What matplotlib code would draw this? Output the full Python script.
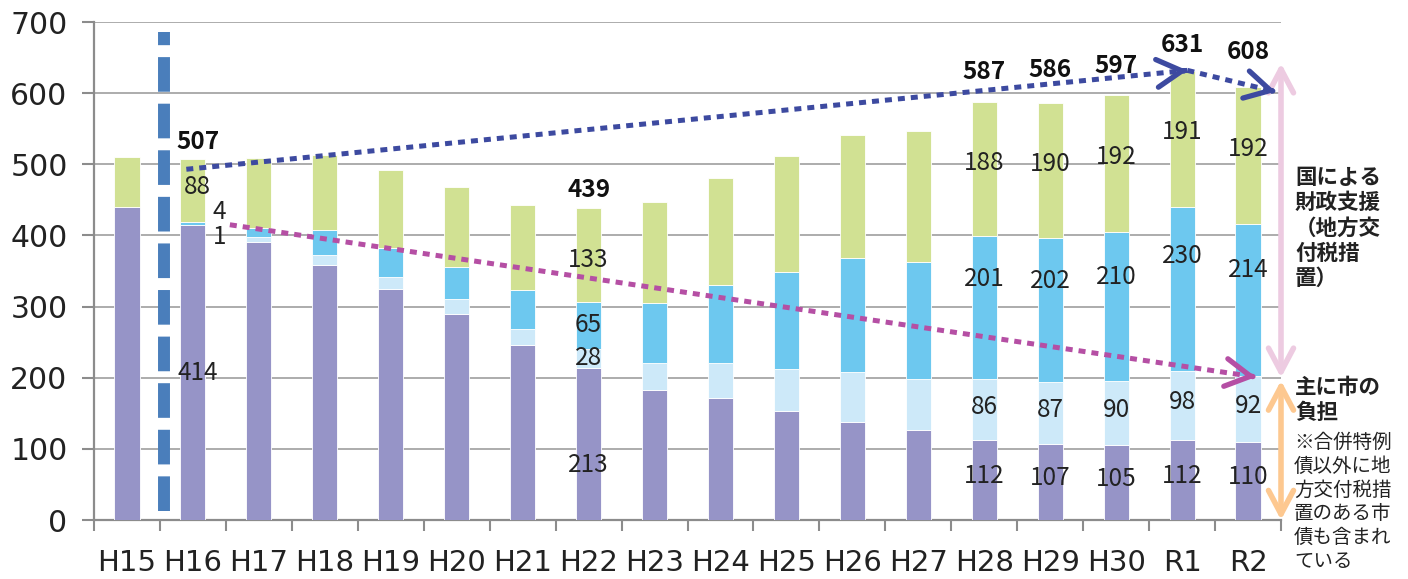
import matplotlib
matplotlib.use("Agg")
import matplotlib.pyplot as plt
import numpy as np

# ---------------- data ----------------
years = ["H15", "H16", "H17", "H18", "H19", "H20", "H21", "H22", "H23",
         "H24", "H25", "H26", "H27", "H28", "H29", "H30", "R1", "R2"]
# 主に市の負担（合併特例債以外）
city_burden = [440, 414, 391, 359, 325, 289, 246, 213, 183, 171, 153, 138, 126, 112, 107, 105, 112, 110]
# 主に市の負担（合併特例債）
merger_city = [0, 1, 7, 14, 17, 21, 23, 28, 37, 49, 59, 70, 72, 86, 87, 90, 98, 92]
# 国による財政支援（合併特例債）
merger_national = [0, 4, 12, 34, 40, 45, 54, 65, 85, 111, 136, 160, 165, 201, 202, 210, 230, 214]
# 国による財政支援（その他）
other_national = [70, 88, 99, 106, 110, 113, 120, 133, 142, 150, 164, 173, 184, 188, 190, 192, 191, 192]

labeled_years = ["H16", "H22", "H28", "H29", "H30", "R1", "R2"]
y_ticks = [0, 100, 200, 300, 400, 500, 600, 700]

text_national = "国による\n財政支援\n（地方交\n付税措\n置）"
text_city = "主に市の\n負担"
text_note = "※合併特例\n債以外に地\n方交付税措\n置のある市\n債も含まれ\nている"

# ---------------- style ----------------
C_PURPLE = "#9694C7"
C_LIGHT = "#CDE9F9"
C_BLUE = "#6DC8EF"
C_GREEN = "#D1E193"
C_GRID = "#A6A6A6"
C_DASH = "#4A7EBB"
C_NAVY = "#3D4AA0"
C_MAGENTA = "#B54FA4"
C_PINK = "#EDCBE1"
C_ORANGE = "#FDC890"

NUM_FONT = ["Noto Sans CJK JP", "DejaVu Sans"]
JP_FONT = ["Noto Sans CJK JP", "DejaVu Sans"]

plt.rcParams["font.family"] = ["DejaVu Sans"]

W, H = 1408, 579
fig = plt.figure(figsize=(W / 100, H / 100), dpi=100)
ax = fig.add_axes([94 / W, 1 - 520 / H, (1281 - 94) / W, (520 - 22) / H])

x = np.arange(len(years))
bw = 0.38
s1 = np.array(city_burden, float)
s2 = np.array(merger_city, float)
s3 = np.array(merger_national, float)
s4 = np.array(other_national, float)
b2 = s1
b3 = s1 + s2
b4 = s1 + s2 + s3
tot = b4 + s4

kw = dict(width=bw, edgecolor="white", linewidth=0.6, zorder=3)
ax.bar(x, s1, color=C_PURPLE, **kw)
ax.bar(x, s2, bottom=b2, color=C_LIGHT, **kw)
ax.bar(x, s3, bottom=b3, color=C_BLUE, **kw)
ax.bar(x, s4, bottom=b4, color=C_GREEN, **kw)

ax.set_xlim(-0.5, len(years) - 0.5)
ax.set_ylim(0, 700)
ax.set_yticks(y_ticks)
ax.set_yticklabels([str(v) for v in y_ticks])
ax.set_xticks(x)
ax.set_xticklabels(years)
ax.set_xticks(np.arange(-0.5, len(years)), minor=True)
ax.tick_params(axis="x", which="major", length=0, pad=21, labelsize=21, labelcolor="#222222")
ax.tick_params(axis="x", which="minor", length=8, width=1.5, color="#8C8C8C", direction="out")
ax.tick_params(axis="y", length=9, width=1.5, color="#8C8C8C", pad=10, labelsize=21.5, labelcolor="#222222")

for sp in ["top", "right"]:
    ax.spines[sp].set_visible(False)
for sp in ["left", "bottom"]:
    ax.spines[sp].set_color("#8C8C8C")
    ax.spines[sp].set_linewidth(1.6)
ax.yaxis.grid(True, color=C_GRID, linewidth=1.3, zorder=0)
ax.set_axisbelow(True)

# ---------------- labels ----------------
idx = {y: i for i, y in enumerate(years)}
lab_kw = dict(family=NUM_FONT, fontsize=17.5, color="#222222", ha="center", zorder=6)
total_offset = {"H16": 24, "H22": 25, "H28": 43, "H29": 46, "H30": 41, "R1": 37, "R2": 50}
for yname in labeled_years:
    i = idx[yname]
    dx = 0.07 if yname == "H16" else 0.0
    late = i >= 13
    purple_frac = 0.55 if late else (0.36 if yname == "H22" else 0.5)
    blue_frac = 0.7 if late else 0.5
    green_frac = 0.45 if yname == "H22" else 0.55
    ax.text(i + dx, s1[i] * purple_frac, f"{int(s1[i])}", va="center", **lab_kw)
    if yname == "H16":
        ax.text(i + 0.4, b3[i], f"{int(s3[i])}", va="bottom", **lab_kw)
        ax.text(i + 0.4, b2[i] + 2, f"{int(s2[i])}", va="top", **lab_kw)
    else:
        ax.text(i + dx, b2[i] + s2[i] * 0.55, f"{int(s2[i])}", va="center", **lab_kw)
        ax.text(i + dx, b3[i] + s3[i] * blue_frac, f"{int(s3[i])}", va="center", **lab_kw)
    ax.text(i + dx, b4[i] + s4[i] * green_frac, f"{int(s4[i])}", va="center", **lab_kw)
    ax.text(i + dx, tot[i] + total_offset[yname], f"{int(tot[i])}", va="center",
            family=NUM_FONT, fontsize=17.5, fontweight="bold", color="#111111",
            ha="center", zorder=6)

# ---------------- vertical dashed separator ----------------
ax.plot([0.56, 0.56], [12, 686], color=C_DASH, linewidth=8.6,
        linestyle=(0, (2.9, 1.0)), dash_capstyle="butt", zorder=5, clip_on=False)


def chevron(tip, frm, color, lw=3.8):
    ax.annotate("", xy=tip, xytext=frm,
                arrowprops=dict(arrowstyle="->,head_length=0.9,head_width=0.5",
                                color=color, lw=lw, shrinkA=0, shrinkB=0,
                                mutation_scale=20),
                annotation_clip=False, zorder=7)


def dotted(p0, p1, color):
    ax.plot([p0[0], p1[0]], [p0[1], p1[1]], color=color, linewidth=3.6,
            linestyle=(0, (1.4, 1.2)), dash_capstyle="butt", zorder=6, clip_on=False)


def back(p_from, p_tip, d=0.05):
    sx = (p_tip[1] - p_from[1]) / (p_tip[0] - p_from[0])
    return (p_tip[0] - d, p_tip[1] - sx * d)


# navy trend arrows (total)
iH16, iR1 = idx["H16"], idx["R1"]
p_start = (0.9, tot[iH16] - 14)
p_mid = (iR1 + 0.08, tot[iR1] + 1)
p_end = (17.42, 602)
dotted(p_start, p_mid, C_NAVY)
dotted(p_mid, p_end, C_NAVY)
chevron(p_mid, back(p_start, p_mid), C_NAVY)
chevron(p_end, back(p_mid, p_end), C_NAVY)

# magenta trend arrow (city burden)
m_start = (1.56, s1[iH16] + 1)
m_end = (17.12, 201)
dotted(m_start, back(m_start, m_end), C_MAGENTA)
chevron(m_end, back(m_start, m_end), C_MAGENTA)

# right-side bracket arrows
xa = 17.5
ax.annotate("", xy=(xa, 642), xytext=(xa, 200),
            arrowprops=dict(arrowstyle="<->,head_length=0.85,head_width=0.45",
                            color=C_PINK, lw=4, shrinkA=0, shrinkB=0, mutation_scale=20),
            annotation_clip=False, zorder=4)
ax.annotate("", xy=(xa, 196), xytext=(xa, 0),
            arrowprops=dict(arrowstyle="<->,head_length=0.85,head_width=0.45",
                            color=C_ORANGE, lw=4, shrinkA=0, shrinkB=0, mutation_scale=20),
            annotation_clip=False, zorder=4)

# ---------------- right texts ----------------
fig.text(1295 / W, 1 - 167 / H, text_national, family=JP_FONT, fontsize=15.5,
         fontweight="bold", color="#222222", va="top", ha="left", linespacing=1.25)
fig.text(1295 / W, 1 - 377 / H, text_city, family=JP_FONT, fontsize=15.5,
         fontweight="bold", color="#222222", va="top", ha="left", linespacing=1.25)
fig.text(1294 / W, 1 - 432 / H, text_note, family=JP_FONT, fontsize=14,
         color="#222222", va="top", ha="left", linespacing=1.17)

fig.savefig("out.png", dpi=100)
